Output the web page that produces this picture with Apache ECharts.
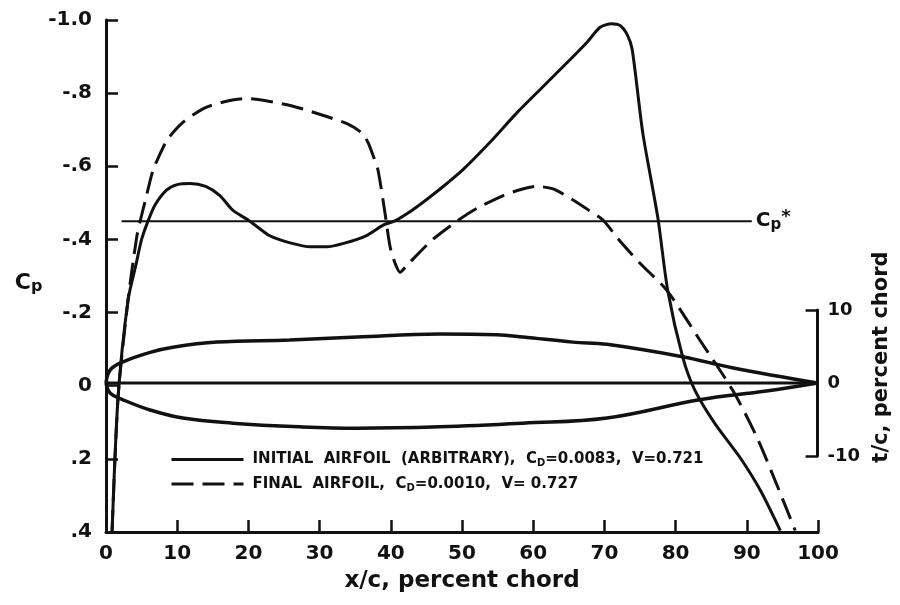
<!DOCTYPE html>
<html>
<head>
<meta charset="utf-8">
<script src="https://cdn.jsdelivr.net/npm/echarts@6/dist/echarts.min.js"></script>
<style>html,body{margin:0;padding:0;background:#fff;}#c{width:900px;height:605px;}</style>
</head>
<body>
<div id="c"></div>
<script>
// ---- Data ----
const cpTickLabels = ['-1.0', '-.8', '-.6', '-.4', '-.2', '0', '.2', '.4'];
const xTickLabels = ['0', '10', '20', '30', '40', '50', '60', '70', '80', '90', '100'];
const tcTickLabels = {'-10': '-10', '0': '0', '10': '10'};

const initX = [0.85, 1.7, 3.1, 4.2, 5.0, 5.9, 6.9, 8.5, 10.0, 11.8, 14.0, 16.0, 17.8, 20.2, 23.0, 26.0, 28.7, 31.0, 33.5, 36.5, 39.0, 40.5, 43.0, 45.5, 48.0, 50.1, 53.9, 57.7, 61.4, 65.2, 67.6, 69.4, 71.0, 72.2, 73.2, 73.9, 75.4, 77.5, 78.9, 81.0, 82.7, 85.5, 89.0, 91.9, 94.7];
const initCp = [0.40, 0.03, -0.235, -0.33, -0.40, -0.45, -0.495, -0.535, -0.55, -0.553, -0.545, -0.52, -0.48, -0.45, -0.41, -0.39, -0.38, -0.38, -0.39, -0.41, -0.44, -0.45, -0.48, -0.516, -0.555, -0.59, -0.665, -0.746, -0.818, -0.892, -0.94, -0.98, -0.99, -0.985, -0.96, -0.92, -0.69, -0.46, -0.26, -0.078, 0.012, 0.103, 0.195, 0.286, 0.396];

const finalX = [0.85, 1.7, 3.1, 4.3, 4.8, 5.5, 6.6, 7.2, 8.6, 10.8, 13.9, 17.4, 19.8, 22.3, 26.5, 31.0, 34.0, 36.0, 36.8, 37.5, 38.2, 39.2, 39.9, 40.6, 41.3, 42.3, 45.9, 49.3, 52.1, 55.8, 58.5, 60.5, 62.8, 65.6, 67.8, 69.8, 72.0, 75.0, 78.8, 83.4, 88.0, 91.4, 94.2, 96.8];
const finalCp = [0.40, 0.03, -0.235, -0.405, -0.45, -0.505, -0.59, -0.617, -0.672, -0.72, -0.76, -0.78, -0.785, -0.78, -0.763, -0.736, -0.715, -0.69, -0.665, -0.63, -0.59, -0.47, -0.38, -0.335, -0.31, -0.33, -0.40, -0.45, -0.485, -0.52, -0.538, -0.545, -0.538, -0.508, -0.48, -0.453, -0.40, -0.335, -0.26, -0.125, 0.012, 0.14, 0.27, 0.396];

const cpStarX = [2.2, 90.7];
const cpStarValue = -0.45;

const upperX = [0, 0.6, 2.4, 6.2, 9.4, 15.6, 25.8, 35.3, 46.9, 54.9, 58.6, 65.6, 70.4, 81.0, 88.0, 100];
const upperT = [0, 1.8, 2.9, 4.2, 4.9, 5.6, 5.9, 6.3, 6.7, 6.6, 6.3, 5.6, 5.3, 3.6, 2.1, 0];
const lowerX = [0, 0.6, 2.4, 6.2, 10.8, 17.8, 27.2, 35.3, 46.9, 58.6, 70.4, 83.4, 92.8, 100];
const lowerT = [0, -1.4, -2.3, -3.7, -4.8, -5.5, -6.0, -6.2, -6.0, -5.5, -4.8, -2.3, -1.1, 0];
const chordX = [0, 100];
const chordT = [0, 0];

const seriesNames = ['INITIAL', 'FINAL'];
const legendTexts = {
  'INITIAL': 'INITIAL  AIRFOIL  (ARBITRARY),  C{s|D}=0.0083,  V=0.721',
  'FINAL': 'FINAL  AIRFOIL,  C{s|D}=0.0010,  V= 0.727'
};

// ---- Helpers ----
const zip = (xs, ys) => xs.map((x, i) => [x, ys[i]]);
const FONT = 'DejaVu Sans';
const INK = '#111';

const chart = echarts.init(document.getElementById('c'), null, {renderer: 'canvas'});
const option = {
  backgroundColor: '#fff',
  animation: false,
  grid: [
    {left: 106, right: 82, top: 20, height: 512},
    {left: 106, right: 82, top: 310, height: 146}
  ],
  legend: {
    data: seriesNames,
    orient: 'vertical',
    left: 165,
    top: 447,
    itemWidth: 72,
    itemHeight: 14,
    itemGap: 8,
    itemStyle: {opacity: 0},
    lineStyle: {width: 3},
    formatter: n => legendTexts[n],
    textStyle: {
      fontFamily: FONT, fontWeight: 'bold', fontSize: 15, color: INK,
      padding: [0, 0, 0, 4],
      rich: {s: {fontFamily: FONT, fontWeight: 'bold', fontSize: 10, color: INK, padding: [8, 0, 0, 0]}}
    }
  },
  xAxis: [
    {
      type: 'value', gridIndex: 0, min: 0, max: 100, interval: 10,
      axisLine: {onZero: false, lineStyle: {color: INK, width: 3}},
      axisTick: {inside: true, length: 12, lineStyle: {color: INK, width: 2.5}},
      splitLine: {show: false},
      axisLabel: {
        margin: 12, color: INK, fontFamily: FONT, fontWeight: 'bold', fontSize: 20,
        formatter: (v, i) => xTickLabels[Math.round(v / 10)]
      },
      name: 'x/c, percent chord',
      nameLocation: 'middle', nameGap: 38,
      nameTextStyle: {color: INK, fontFamily: FONT, fontWeight: 'bold', fontSize: 23}
    },
    {
      type: 'value', gridIndex: 1, min: 0, max: 100, show: false
    }
  ],
  yAxis: [
    {
      type: 'value', gridIndex: 0, min: -1.0, max: 0.4, interval: 0.2, inverse: true,
      axisLine: {show: true, onZero: false, lineStyle: {color: INK, width: 3}},
      axisTick: {show: true, inside: true, length: 12, lineStyle: {color: INK, width: 2.5}},
      splitLine: {show: false},
      axisLabel: {
        margin: 14, color: INK, fontFamily: FONT, fontWeight: 'bold', fontSize: 20,
        formatter: v => cpTickLabels[Math.round((v + 1.0) / 0.2)]
      },
      name: '{a|C}{b|p}',
      nameLocation: 'middle', nameGap: 62, nameRotate: 0,
      nameTextStyle: {
        padding: [14, 0, 0, 0],
        rich: {
          a: {color: INK, fontFamily: FONT, fontWeight: 'bold', fontSize: 22},
          b: {color: INK, fontFamily: FONT, fontWeight: 'bold', fontSize: 16, padding: [8, 0, 0, 0]}
        }
      }
    },
    {
      type: 'value', gridIndex: 1, position: 'right', min: -10, max: 10, interval: 10,
      axisLine: {show: true, onZero: false, lineStyle: {color: INK, width: 3}},
      axisTick: {show: true, inside: true, length: 12, lineStyle: {color: INK, width: 2.5}},
      splitLine: {show: false},
      axisLabel: {
        margin: 10, color: INK, fontFamily: FONT, fontWeight: 'bold', fontSize: 18,
        formatter: v => tcTickLabels[String(Math.round(v))]
      },
      name: 't/c, percent chord',
      nameLocation: 'middle', nameGap: 50, nameRotate: 90,
      nameTextStyle: {color: INK, fontFamily: FONT, fontWeight: 'bold', fontSize: 21, padding: [0, 0, 0, 52]}
    }
  ],
  series: [
    {
      name: 'INITIAL', type: 'line', xAxisIndex: 0, yAxisIndex: 0,
      data: zip(initX, initCp), showSymbol: false, symbol: 'none', smooth: 0.25,
      lineStyle: {color: INK, width: 3}, itemStyle: {color: INK}
    },
    {
      name: 'FINAL', type: 'line', xAxisIndex: 0, yAxisIndex: 0,
      data: zip(finalX, finalCp), showSymbol: false, symbol: 'none', smooth: 0.25,
      lineStyle: {color: INK, width: 3, type: [22, 9]}, itemStyle: {color: INK}
    },
    {
      name: 'Cp*', type: 'line', xAxisIndex: 0, yAxisIndex: 0,
      data: cpStarX.map(x => [x, cpStarValue]), showSymbol: false, symbol: 'none',
      lineStyle: {color: INK, width: 2},
      endLabel: {
        show: true, distance: 4,
        formatter: '{a|C}{b|p}{c|*}',
        rich: {
          a: {color: INK, fontFamily: FONT, fontWeight: 'bold', fontSize: 20},
          b: {color: INK, fontFamily: FONT, fontWeight: 'bold', fontSize: 15, padding: [8, 0, 0, 0]},
          c: {color: INK, fontFamily: FONT, fontWeight: 'bold', fontSize: 18, padding: [0, 0, 8, 0]}
        }
      }
    },
    {
      name: 'upper', type: 'line', xAxisIndex: 1, yAxisIndex: 1,
      data: zip(upperX, upperT), showSymbol: false, symbol: 'none', smooth: 0.4,
      lineStyle: {color: INK, width: 3.5}
    },
    {
      name: 'lower', type: 'line', xAxisIndex: 1, yAxisIndex: 1,
      data: zip(lowerX, lowerT), showSymbol: false, symbol: 'none', smooth: 0.4,
      lineStyle: {color: INK, width: 3.5}
    },
    {
      name: 'chord', type: 'line', xAxisIndex: 1, yAxisIndex: 1,
      data: zip(chordX, chordT), showSymbol: false, symbol: 'none',
      lineStyle: {color: INK, width: 3}
    }
  ]
};
chart.setOption(option);
</script>
</body>
</html>
